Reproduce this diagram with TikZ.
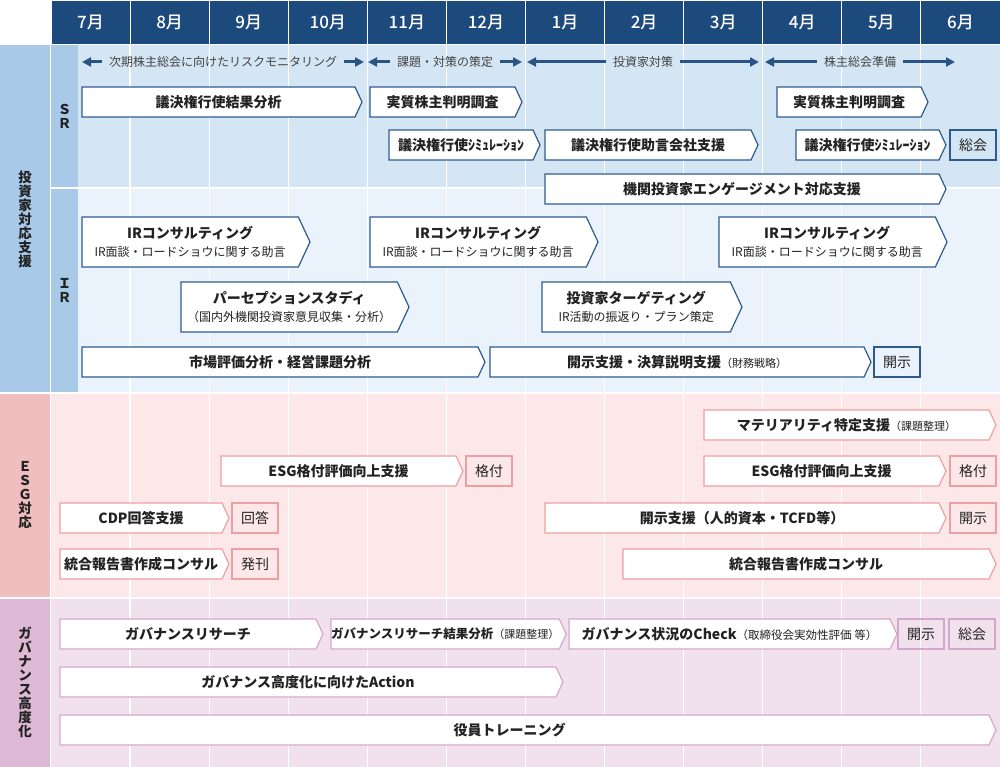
\documentclass[tikz,border=0pt]{standalone}
\usepackage{fontspec}
\setmainfont{Noto Sans CJK JP}
\newfontfamily\monthfont{Noto Sans CJK JP}[UprightFont={* Medium}]
\usepackage{xcolor}
\usepackage{tikz}
\usetikzlibrary{shapes.symbols, arrows.meta, positioning}
\definecolor{hdr}{HTML}{1D4A7C}
\definecolor{invlbl}{HTML}{A8CAE8}
\definecolor{srbg}{HTML}{D4E5F4}
\definecolor{irbg}{HTML}{EAF3FC}
\definecolor{invline}{HTML}{2E5B8E}
\definecolor{esglbl}{HTML}{F0BEBF}
\definecolor{esgbg}{HTML}{FDE8E9}
\definecolor{esgline}{HTML}{EE9FA2}
\definecolor{govlbl}{HTML}{DDB9D6}
\definecolor{govbg}{HTML}{F1E1EC}
\definecolor{govline}{HTML}{D5A7CD}
\definecolor{phasecol}{HTML}{2A5486}
\definecolor{txt}{HTML}{222222}
\tikzstyle{month} = [rectangle, minimum width=79.08pt, minimum height=44pt, inner sep=0pt, outer sep=0pt, fill=hdr, draw=white, line width=0.8pt, text=white, font=\monthfont\fontsize{17}{17}\selectfont]
\tikzstyle{cat} = [align=center, inner sep=0pt, text=txt, font=\bfseries\fontsize{13.5}{14}\selectfont]
\tikzstyle{phase} = [inner xsep=7pt, inner ysep=0pt, text=txt!85, font=\fontsize{12}{12}\selectfont]
\tikzstyle{phasearrow} = [line width=3pt, phasecol, -{Triangle[length=9pt,width=9pt]}]
\tikzstyle{grid} = [white, line width=1.2pt]
\tikzstyle{bar} = [signal, signal to=east, signal pointer angle=130, minimum height=30pt, inner sep=0pt, outer sep=0pt, fill=white, line width=1.2pt, text=txt, anchor=west, font=\bfseries\fontsize{14}{14}\selectfont]
\tikzstyle{invbar} = [bar, draw=invline]
\tikzstyle{irbar} = [invbar, minimum height=50pt, align=center, font=\bfseries\fontsize{14}{18}\selectfont]
\tikzstyle{esgbar} = [bar, draw=esgline]
\tikzstyle{govbar} = [bar, draw=govline]
\tikzstyle{endbox} = [rectangle, minimum width=46pt, minimum height=30pt, inner sep=0pt, outer sep=0pt, line width=1.2pt, text=txt, font=\fontsize{14}{14}\selectfont]
\tikzstyle{invend} = [endbox, draw=invline]
\tikzstyle{esgend} = [endbox, draw=esgline]
\tikzstyle{govend} = [endbox, draw=govline]
\newcommand{\sub}[1]{{\mdseries\fontsize{12}{18}\selectfont #1}}
\newcommand{\note}[1]{{\mdseries\fontsize{11}{11}\selectfont #1}}
\begin{document}
\begin{tikzpicture}[x=1pt, y=-1pt]
\useasboundingbox (0,0) rectangle (1000,767);

% header
\node (m7) [month] at (90.54,22) {7月};
\node (m8) [month, right=0pt of m7] {8月};
\node (m9) [month, right=0pt of m8] {9月};
\node (m10) [month, right=0pt of m9] {10月};
\node (m11) [month, right=0pt of m10] {11月};
\node (m12) [month, right=0pt of m11] {12月};
\node (m1) [month, right=0pt of m12] {1月};
\node (m2) [month, right=0pt of m1] {2月};
\node (m3) [month, right=0pt of m2] {3月};
\node (m4) [month, right=0pt of m3] {4月};
\node (m5) [month, right=0pt of m4] {5月};
\node (m6) [month, right=0pt of m5] {6月};

% bands
\fill [invlbl] (0,45) rectangle (50,392);
\fill [invlbl] (51,45) rectangle (78,187.5);
\fill [invlbl] (51,189) rectangle (78,392);
\fill [srbg] (78,45) rectangle (1000,187.5);
\fill [irbg] (78,189) rectangle (1000,392);
\fill [esglbl] (0,394) rectangle (50,597);
\fill [esgbg] (51,394) rectangle (1000,597);
\fill [govlbl] (0,599) rectangle (50,767);
\fill [govbg] (51,599) rectangle (1000,767);

\draw [grid] (m8.south west) -- ++(0,723);
\draw [grid] (m9.south west) -- ++(0,723);
\draw [grid] (m10.south west) -- ++(0,723);
\draw [grid] (m11.south west) -- ++(0,723);
\draw [grid] (m12.south west) -- ++(0,723);
\draw [grid] (m1.south west) -- ++(0,723);
\draw [grid] (m2.south west) -- ++(0,723);
\draw [grid] (m3.south west) -- ++(0,723);
\draw [grid] (m4.south west) -- ++(0,723);
\draw [grid] (m5.south west) -- ++(0,723);
\draw [grid] (m6.south west) -- ++(0,723);

\node (inv) [cat] at (25,219) {投\\資\\家\\対\\応\\支\\援};
\node (sr) [cat] at (64.5,116) {Ｓ\\Ｒ};
\node (ir) [cat] at (64.5,290) {Ｉ\\Ｒ};
\node (esg) [cat] at (25,495) {Ｅ\\Ｓ\\Ｇ\\対\\応};
\node (gov) [cat] at (25,682) {ガ\\バ\\ナ\\ン\\ス\\高\\度\\化};

% SR
\node (ph1) [phase] at (223,62) {次期株主総会に向けたリスクモニタリング};
\node (ph2) [phase] at (445,62) {課題・対策の策定};
\node (ph3) [phase] at (643,62) {投資家対策};
\node (ph4) [phase] at (860,62) {株主総会準備};
\coordinate (ph1l) at (82,62);
\coordinate (ph1r) at (364,62);
\coordinate (ph2l) at (368,62);
\coordinate (ph2r) at (522,62);
\coordinate (ph3l) at (527,62);
\coordinate (ph3r) at (759,62);
\coordinate (ph4l) at (765,62);
\coordinate (ph4r) at (955,62);

\node (ks1) [invbar, minimum width=280pt] at (82,102) {議決権行使結果分析};
\node (js1) [invbar, minimum width=152pt] at (370,102) {実質株主判明調査};
\node (js2) [invbar, minimum width=151pt] at (777,102) {実質株主判明調査};
\node (sim1) [invbar, minimum width=151pt] at (389,145) {議決権行使ｼﾐｭﾚｰｼｮﾝ};
\node (jg) [invbar, minimum width=213pt] at (545,145) {議決権行使助言会社支援};
\node (sim2) [invbar, minimum width=150pt] at (796,145) {議決権行使ｼﾐｭﾚｰｼｮﾝ};
\node (sokai1) [invend, right=4pt of sim2] {総会};
\node (eng) [invbar, minimum width=401pt] at (545,189) {機関投資家エンゲージメント対応支援};

% IR
\node (irc1) [irbar, minimum width=228pt] at (82,242) {IRコンサルティング\\\sub{IR面談・ロードショウに関する助言}};
\node (irc2) [irbar, minimum width=228pt] at (370,242) {IRコンサルティング\\\sub{IR面談・ロードショウに関する助言}};
\node (irc3) [irbar, minimum width=228pt] at (719,242) {IRコンサルティング\\\sub{IR面談・ロードショウに関する助言}};
\node (ps) [irbar, minimum width=228pt] at (181,307) {パーセプションスタディ\\\sub{（国内外機関投資家意見収集・分析）}};
\node (tg) [irbar, minimum width=200pt] at (542,307) {投資家ターゲティング\\\sub{IR活動の振返り・プラン策定}};
\node (mk) [invbar, minimum width=403pt] at (82,362) {市場評価分析・経営課題分析};
\node (kj) [invbar, minimum width=381pt] at (490,362) {開示支援・決算説明支援\note{（財務戦略）}};
\node (kaiji1) [invend, right=3pt of kj] {開示};

% ESG
\node (mt) [esgbar, minimum width=292pt] at (704,425) {マテリアリティ特定支援\note{（課題整理）}};
\node (esg1) [esgbar, minimum width=242pt] at (221,471) {ESG格付評価向上支援};
\node (kaku1) [esgend, right=3pt of esg1] {格付};
\node (esg2) [esgbar, minimum width=242pt] at (704,471) {ESG格付評価向上支援};
\node (kaku2) [esgend, right=4pt of esg2] {格付};
\node (cdp) [esgbar, minimum width=169pt] at (60,518) {CDP回答支援};
\node (kaitou) [esgend, right=3pt of cdp] {回答};
\node (kjh) [esgbar, minimum width=401pt] at (545,518) {開示支援（人的資本・TCFD等）};
\node (kaiji2) [esgend, right=4pt of kjh] {開示};
\node (tr1) [esgbar, minimum width=169pt] at (60,564) {統合報告書作成コンサル};
\node (hakkan) [esgend, right=3pt of tr1] {発刊};
\node (tr2) [esgbar, minimum width=373pt] at (623,564) {統合報告書作成コンサル};

% governance
\node (gr) [govbar, minimum width=263pt] at (60,634) {ガバナンスリサーチ};
\node (gra) [govbar, minimum width=232pt, font=\bfseries\fontsize{12.5}{12.5}\selectfont] at (331,634) {ガバナンスリサーチ結果分析\note{（課題整理）}};
\node (gc) [govbar, minimum width=328pt] at (569,634) {ガバナンス状況のCheck{\mdseries\fontsize{11.5}{11.5}\selectfont （取締役会実効性評価 等）}};
\node (kaiji3) [govend, right=1pt of gc] {開示};
\node (sokai2) [govend, right=5pt of kaiji3] {総会};
\node (ga) [govbar, minimum width=503pt] at (60,682) {ガバナンス高度化に向けたAction};
\node (yt) [govbar, minimum width=936pt] at (60,730) {役員トレーニング\hspace*{30pt}};

\draw [phasearrow] (ph1) -- (ph1l);
\draw [phasearrow] (ph1) -- (ph1r);
\draw [phasearrow] (ph2) -- (ph2l);
\draw [phasearrow] (ph2) -- (ph2r);
\draw [phasearrow] (ph3) -- (ph3l);
\draw [phasearrow] (ph3) -- (ph3r);
\draw [phasearrow] (ph4) -- (ph4l);
\draw [phasearrow] (ph4) -- (ph4r);

\end{tikzpicture}
\end{document}
